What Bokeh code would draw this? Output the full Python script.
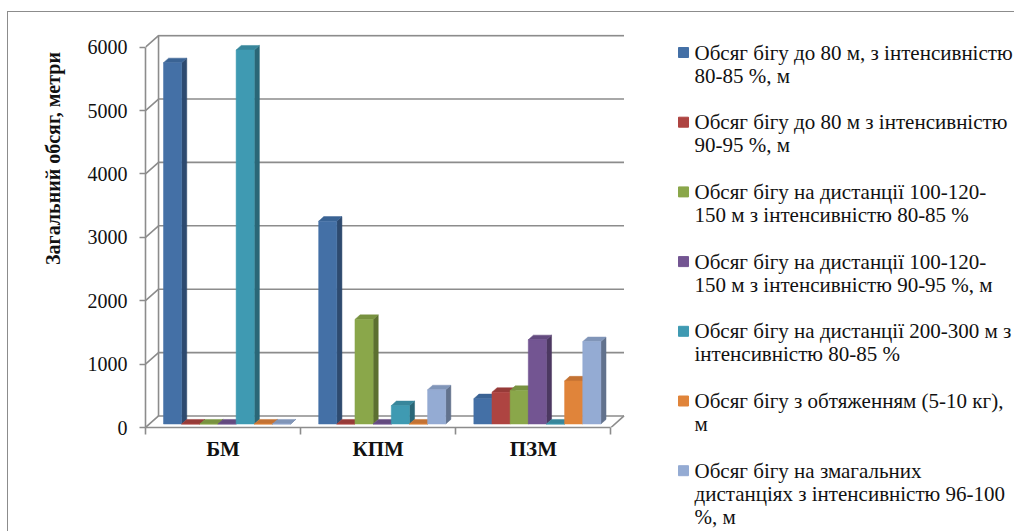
import math
from bokeh.plotting import figure
from bokeh.models import Range1d, FixedTicker
from bokeh.layouts import row
from bokeh.embed import file_html
from bokeh.resources import INLINE
from bokeh.core.properties import value

# ---------------- data ----------------
categories = ["БМ", "КПМ", "ПЗМ"]
y_ticks = [0, 1000, 2000, 3000, 4000, 5000, 6000]
y_title = "Загальний обсяг, метри"

run_80_80_85 = [5700, 3200, 400]
run_80_90_95 = [0, 0, 500]
run_100_150_80_85 = [0, 1650, 530]
run_100_150_90_95 = [0, 0, 1330]
run_200_300_80_85 = [5900, 290, 0]
run_weighted = [0, 0, 680]
run_competition = [0, 540, 1300]

series_values = [run_80_80_85, run_80_90_95, run_100_150_80_85, run_100_150_90_95,
                 run_200_300_80_85, run_weighted, run_competition]

legend_lines = [
    ["Обсяг бігу до 80 м, з інтенсивністю", "80-85 %, м"],
    ["Обсяг бігу до 80 м з інтенсивністю", "90-95 %, м"],
    ["Обсяг бігу на дистанції 100-120-", "150 м з інтенсивністю 80-85 %"],
    ["Обсяг бігу на дистанції 100-120-", "150 м з інтенсивністю 90-95 %, м"],
    ["Обсяг бігу на дистанції 200-300 м з", "інтенсивністю 80-85 %"],
    ["Обсяг бігу з обтяженням (5-10 кг),", "м"],
    ["Обсяг бігу на змагальних", "дистанціях з інтенсивністю 96-100", "%, м"],
]

# colours: (front, side, top)
colors = [
    ("#4470A6", "#2E4A6F", "#3A6394"),
    ("#AE4441", "#752C2B", "#963B38"),
    ("#8AA74A", "#5C7030", "#789240"),
    ("#735592", "#4C3861", "#634A7F"),
    ("#3F9AB2", "#2A6777", "#37869B"),
    ("#E0843A", "#985826", "#C37233"),
    ("#94ABD3", "#62728D", "#8095B8"),
]

FONT = "Liberation Serif"
GRID = "#8c8c8c"
TXT = "#111111"

# ---------------- 3D geometry (data units) ----------------
DX, DY = 0.084, 182          # depth of the chart box
BAR_W = 0.117                # bar width
GROUP_OFF = 0.116            # offset of first bar front face in a category
FY = 55                      # bar base above front floor edge
BDX, BDY = 0.033, 72         # bar depth

# ---------------- y-axis title strip ----------------
tf = figure(width=70, height=519, x_range=Range1d(0, 70), y_range=Range1d(519, 0),
            output_backend="svg", toolbar_location=None,
            min_border=0, x_axis_location=None, y_axis_location=None)
tf.frame_align = False
tf.outline_line_color = None
tf.xgrid.visible = False
tf.ygrid.visible = False
tf.text([44], [146], text=[y_title], angle=math.pi / 2,
        text_font=value(FONT), text_font_size="20px", text_font_style="bold",
        text_align="center", text_baseline="middle", text_color=TXT)

# ---------------- main chart ----------------
p = figure(width=562, height=519, x_range=Range1d(0, 3.1), y_range=Range1d(0, 6200),
           output_backend="svg", toolbar_location=None,
           min_border_left=67, min_border_right=14, min_border_top=22, min_border_bottom=104)
p.frame_align = False
p.outline_line_color = None
p.xgrid.visible = False
p.ygrid.visible = False

n_cat = len(categories)
gx, gy = [], []
for t in y_ticks:
    gx.append([0, DX, n_cat + DX])
    gy.append([t, t + DY, t + DY])
gx.append([DX, DX])
gy.append([DY, y_ticks[-1] + DY])
gx.append([n_cat, n_cat + DX])
gy.append([0, DY])
p.multi_line(gx, gy, line_color=GRID, line_width=1.6)

xs, ys, fills = [], [], []
for i in range(n_cat):
    for j, vals in enumerate(series_values):
        v = vals[i]
        x0 = i + GROUP_OFF + j * BAR_W
        x1 = x0 + BAR_W
        yb = FY
        yt = FY + v
        front, side, top = colors[j]
        xs.append([x1, x1 + BDX, x1 + BDX, x1]); ys.append([yb, yb + BDY, yt + BDY, yt]); fills.append(side)
        xs.append([x0, x1, x1 + BDX, x0 + BDX]); ys.append([yt, yt, yt + BDY, yt + BDY]); fills.append(top)
        xs.append([x0, x1, x1, x0]); ys.append([yb, yb, yt, yt]); fills.append(front)
p.patches(xs, ys, fill_color=fills, line_color=fills, line_width=0.5)

yax = p.yaxis[0]
yax.ticker = FixedTicker(ticks=y_ticks)
yax.bounds = (0, 6000)
yax.axis_line_color = GRID
yax.axis_line_width = 1.6
yax.major_tick_line_color = GRID
yax.major_tick_line_width = 1.6
yax.major_tick_out = 6
yax.major_tick_in = 0
yax.minor_tick_line_color = None
yax.major_label_text_font = FONT
yax.major_label_text_font_size = "20px"
yax.major_label_text_color = TXT
yax.major_label_standoff = 12

xax = p.xaxis[0]
centers = [i + 0.5 for i in range(n_cat)]
xax.ticker = FixedTicker(ticks=centers, minor_ticks=list(range(n_cat + 1)))
xax.major_label_overrides = {c: name for c, name in zip(centers, categories)}
xax.bounds = (0, n_cat)
xax.axis_line_color = GRID
xax.axis_line_width = 1.6
xax.major_tick_line_color = None
xax.major_tick_out = 0
xax.major_tick_in = 0
xax.minor_tick_line_color = GRID
xax.minor_tick_line_width = 1.6
xax.minor_tick_out = 7
xax.minor_tick_in = 0
xax.major_label_text_font = FONT
xax.major_label_text_font_size = "21px"
xax.major_label_text_font_style = "bold"
xax.major_label_text_color = TXT
xax.major_label_standoff = 2

# ---------------- legend strip ----------------
leg = figure(width=374, height=519, x_range=Range1d(0, 374), y_range=Range1d(519, 0),
             output_backend="svg", toolbar_location=None,
             min_border=0, x_axis_location=None, y_axis_location=None)
leg.frame_align = False
leg.outline_line_color = None
leg.xgrid.visible = False
leg.ygrid.visible = False

ITEM0, ITEM_STEP, LINE_STEP = 40, 69.7, 23
sq_x, sq_y, sq_c = [], [], []
tx, ty, tt = [], [], []
for k, lines in enumerate(legend_lines):
    yc = ITEM0 + k * ITEM_STEP
    sq_x.append(43); sq_y.append(yc); sq_c.append(colors[k][0])
    for m, line in enumerate(lines):
        tx.append(54); ty.append(yc + m * LINE_STEP); tt.append(line)
leg.scatter(sq_x, sq_y, marker="square", size=10, fill_color=sq_c, line_color=sq_c)
leg.text(tx, ty, text=tt, text_font=value(FONT), text_font_size="21px",
         text_baseline="middle", text_align="left", text_color=TXT)

layout = row(tf, p, leg, margin=(11, 0, 0, 7),
             styles={"border-top": "1px solid #8c8c8c", "border-left": "1px solid #8c8c8c"})

open("out.html", "w").write(file_html(layout, INLINE))
